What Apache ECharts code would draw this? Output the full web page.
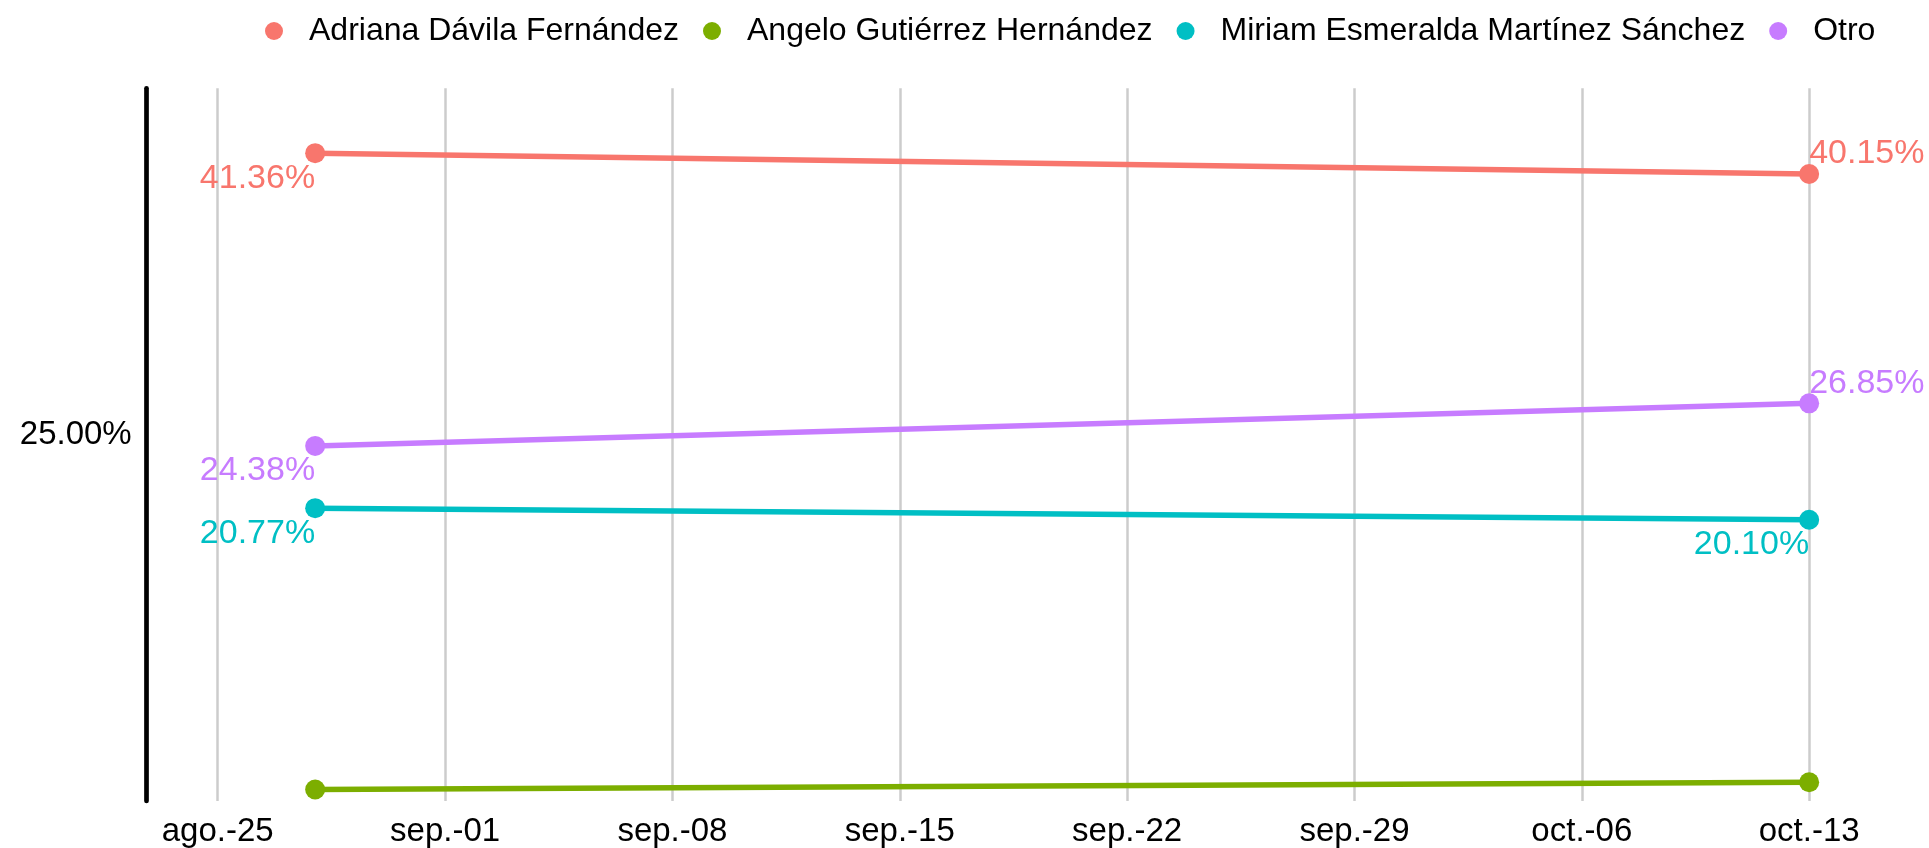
<!DOCTYPE html>
<html>
<head>
<meta charset="utf-8">
<title>Encuesta</title>
<script src="https://cdn.jsdelivr.net/npm/echarts@6/dist/echarts.min.js"></script>
<style>
    html, body {
        margin: 0;
        padding: 0;
        background: #ffffff;
    }
    #chart {
        width: 1929px;
        height: 848px;
    }
</style>
</head>
<body>
<div id="chart"></div>
<script>
// 数据
const names = ['Adriana Dávila Fernández', 'Angelo Gutiérrez Hernández', 'Miriam Esmeralda Martínez Sánchez', 'Otro']
const dates = ['2024-08-28', '2024-10-13']
const adriana = [41.36, 40.15]
const angelo = [4.46, 4.88]
const miriam = [20.77, 20.10]
const otro = [24.38, 26.85]
// 刻度
const tickDates = ['2024-08-25', '2024-09-01', '2024-09-08', '2024-09-15', '2024-09-22', '2024-09-29', '2024-10-06', '2024-10-13']
const tickLabels = ['ago.-25', 'sep.-01', 'sep.-08', 'sep.-15', 'sep.-22', 'sep.-29', 'oct.-06', 'oct.-13']
const yTicks = [25]

const colors = ['#F8766D', '#7CAE00', '#00BFC4', '#C77CFF']
const font = 'Liberation Sans, Arial, Helvetica, sans-serif'
const DAY = 24 * 3600 * 1000

// 以第一个刻度为 0 的天数
const origin = Date.UTC(2024, 7, 25)
const toDay = (s) => Math.round((Date.parse(s + 'T00:00:00Z') - origin) / DAY)
const tickDays = tickDates.map(toDay)

// label 放置: 'bl' 左下, 'tr' 右上, null 不显示
const placement = [
    ['bl', 'tr'],
    [null, null],
    ['bl', 'bl'],
    ['bl', 'tr']
]

function labelFor(p, color) {
    if (!p) return { show: false }
    const base = {
        show: true,
        color: color,
        fontSize: 34,
        fontFamily: font,
        position: [10, 10],
        formatter: (d) => d.value[1].toFixed(2) + '%'
    }
    if (p === 'bl') {
        return Object.assign(base, { align: 'right', verticalAlign: 'top', offset: [0, 8] })
    }
    return Object.assign(base, { align: 'left', verticalAlign: 'bottom', offset: [0, -3] })
}

const values = [adriana, angelo, miriam, otro]

const series = names.map((name, i) => ({
    name: name,
    type: 'line',
    symbol: 'circle',
    symbolSize: 20,
    color: colors[i],
    lineStyle: { width: 5.5, color: colors[i] },
    itemStyle: { color: colors[i] },
    clip: false,
    animation: false,
    data: dates.map((d, j) => ({
        value: [toDay(d), values[i][j]],
        label: labelFor(placement[i][j], colors[i])
    }))
}))

const option = {
    backgroundColor: '#ffffff',
    animation: false,
    legend: {
        left: 260,
        top: 10,
        icon: 'circle',
        itemWidth: 60,
        itemHeight: 18,
        itemGap: 24,
        textStyle: { fontSize: 32, fontFamily: font, color: '#000000' },
        data: names
    },
    grid: {
        left: 146.7,
        right: 0,
        top: 88.3,
        bottom: 44.7,
        containLabel: false
    },
    xAxis: {
        type: 'value',
        min: -2.187,
        max: 52.69,
        axisLine: { show: false },
        axisTick: { show: false, customValues: tickDays },
        axisLabel: {
            customValues: tickDays,
            margin: 14,
            fontSize: 33,
            fontFamily: font,
            color: '#000000',
            formatter: (v) => tickLabels[tickDays.indexOf(v)] || ''
        },
        splitLine: {
            show: true,
            lineStyle: { color: '#cccccc', width: 2.5 }
        }
    },
    yAxis: {
        type: 'value',
        min: 3.79,
        max: 45.12,
        axisLine: { show: true, onZero: false, lineStyle: { color: '#000000', width: 4.7 } },
        axisTick: { show: false, customValues: yTicks },
        axisLabel: {
            customValues: yTicks,
            margin: 15,
            fontSize: 33,
            fontFamily: font,
            color: '#000000',
            formatter: (v) => v.toFixed(2) + '%'
        },
        splitLine: { show: false }
    },
    series: series
}

const myChart = echarts.init(document.getElementById('chart'))
myChart.setOption(option)
</script>
</body>
</html>
